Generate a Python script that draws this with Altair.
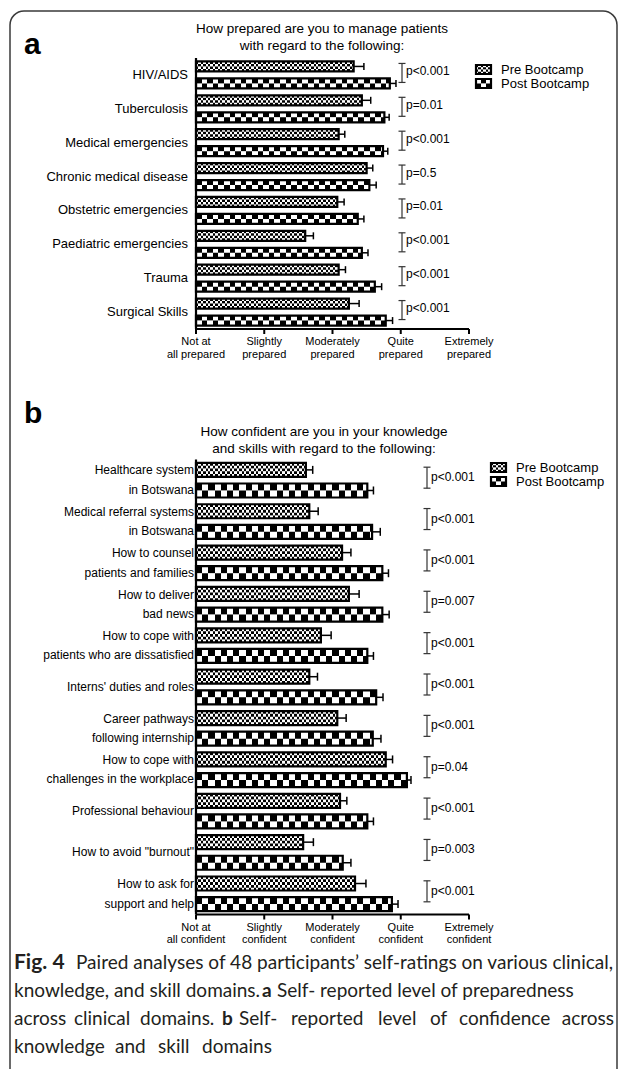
import math
import altair as alt

# ---------------- values ----------------
rating_levels = [1, 2, 3, 4, 5]
ticks_prepared = ["Not at\nall prepared", "Slightly\nprepared", "Moderately\nprepared",
                  "Quite\nprepared", "Extremely\nprepared"]
ticks_confident = ["Not at\nall confident", "Slightly\nconfident", "Moderately\nconfident",
                   "Quite\nconfident", "Extremely\nconfident"]

clinical_domains = ["HIV/AIDS", "Tuberculosis", "Medical emergencies", "Chronic medical disease",
                    "Obstetric emergencies", "Paediatric emergencies", "Trauma", "Surgical Skills"]
clinical_pre = [3.31, 3.43, 3.09, 3.50, 3.07, 2.60, 3.09, 3.24]
clinical_pre_err = [0.15, 0.13, 0.09, 0.09, 0.10, 0.12, 0.10, 0.15]
clinical_post = [3.84, 3.76, 3.74, 3.54, 3.37, 3.43, 3.62, 3.78]
clinical_post_err = [0.09, 0.07, 0.07, 0.10, 0.09, 0.09, 0.10, 0.10]
clinical_p = ["p<0.001", "p=0.01", "p<0.001", "p=0.5", "p=0.01", "p<0.001", "p<0.001", "p<0.001"]

skill_domains = ["Healthcare system\nin Botswana", "Medical referral systems\nin Botswana",
                 "How to counsel\npatients and families", "How to deliver\nbad news",
                 "How to cope with\npatients who are dissatisfied", "Interns' duties and roles",
                 "Career pathways\nfollowing internship", "How to cope with\nchallenges in the workplace",
                 "Professional behaviour", "How to avoid \"burnout\"", "How to ask for\nsupport and help"]
skill_pre = [2.61, 2.66, 3.14, 3.24, 2.83, 2.66, 3.07, 3.78, 3.11, 2.57, 3.33]
skill_pre_err = [0.10, 0.13, 0.13, 0.15, 0.15, 0.12, 0.13, 0.10, 0.10, 0.15, 0.16]
skill_post = [3.51, 3.58, 3.73, 3.73, 3.51, 3.64, 3.59, 4.09, 3.51, 3.15, 3.87]
skill_post_err = [0.09, 0.12, 0.09, 0.10, 0.09, 0.10, 0.12, 0.06, 0.09, 0.12, 0.09]
skill_p = ["p<0.001", "p<0.001", "p<0.001", "p=0.007", "p<0.001", "p<0.001", "p<0.001",
           "p=0.04", "p<0.001", "p=0.003", "p<0.001"]

series_names = ["Pre Bootcamp", "Post Bootcamp"]

# ---------------- layout ----------------
FONT = "Liberation Sans"
X_LO, X_HI = 196, 469                 # pixel span of the 1..5 rating scale
Y_DOMAIN = [0, 8, 9, 20]              # row units: panel a uses 0-8, panel b uses 9-20
Y_RANGE = [58, 329, 459.5, 914.5]
PX_A = (Y_RANGE[1] - Y_RANGE[0]) / 8
PX_GAP = (Y_RANGE[2] - Y_RANGE[1]) / 1
PX_B = (Y_RANGE[3] - Y_RANGE[2]) / 11
PX_PER_UNIT = (X_HI - X_LO) / 4

xs = alt.Scale(domain=[1, 5], range=[X_LO, X_HI], nice=False, zero=False)
ys = alt.Scale(domain=Y_DOMAIN, range=Y_RANGE, nice=False, zero=False)


def stripes(width_px, sq, phase):
    """Hard-stop horizontal gradient giving alternating black/white columns."""
    stops = []
    n = max(1, int(math.ceil(width_px / sq)))
    for c in range(n):
        col = "#000000" if (c + phase) % 2 == 0 else "#ffffff"
        a = min(1.0, c * sq / width_px)
        b = min(1.0, (c + 1) * sq / width_px)
        stops.append({"offset": a, "color": col})
        stops.append({"offset": b, "color": col})
    return {"gradient": "linear", "x1": 0, "x2": 1, "y1": 0, "y2": 0, "stops": stops}


PANEL_A = dict(row0=0, px=PX_A, px_below=PX_GAP, off=8.5, h=10, fine_rows=4, fine_sq=2.4,
               coarse_sq=5.6, cap=3.5, br_top=-11.5, br_bot=7.5, p_dy=-4, axis_row=8, line_h=15)
PANEL_B = dict(row0=9, px=PX_B, px_below=PX_B, off=10.3, h=14, fine_rows=5, fine_sq=2.4,
               coarse_sq=6.2, cap=4.0, br_top=-13, br_bot=8, p_dy=-3, axis_row=20, line_h=19.5)


def build(domains, pre, pre_e, post, post_e, pvals, cfg):
    strips, frames, errs, labels, brackets = [], [], [], [], []
    px = cfg["px"]
    for i, name in enumerate(domains):
        c = cfg["row0"] + i + 0.5
        for grp, v, e, sign in (("Pre", pre[i], pre_e[i], -1), ("Post", post[i], post_e[i], 1)):
            yc = c + sign * cfg["off"] / px
            y0 = yc - cfg["h"] / 2 / px
            y1 = yc + cfg["h"] / 2 / px
            width_px = (v - 1) * PX_PER_UNIT
            nrows = cfg["fine_rows"] if grp == "Pre" else 2
            sq = cfg["fine_sq"] if grp == "Pre" else cfg["coarse_sq"]
            for r in range(nrows):
                s0 = y0 + (y1 - y0) * r / nrows
                s1 = y0 + (y1 - y0) * (r + 1) / nrows + (0.3 / px if r < nrows - 1 else 0)
                strips.append({"x": 1, "x2": v, "y": s0, "y2": s1, "g": stripes(width_px, sq, r)})
            frames.append({"x": 1, "x2": v, "y": y0, "y2": y1})
            errs.append({"v": v, "e": v + e, "yc": yc,
                         "c0": yc - cfg["cap"] / px, "c1": yc + cfg["cap"] / px})
        n_lines = name.count("\n") + 1
        labels.append({"t": name, "x": 1, "y": c - (n_lines - 1) * cfg["line_h"] / 2 / px})
        brackets.append({"p": pvals[i], "b0": c + cfg["br_top"] / px,
                         "b1": c + cfg["br_bot"] / px, "ty": c + cfg["p_dy"] / px})
    return strips, frames, errs, labels, brackets


def panel_layers(data, cfg, ticks, label_size, label_dx, bracket_x):
    strips, frames, errs, labels, brackets = data
    top, bot = cfg["row0"], cfg["axis_row"]
    below = cfg["px_below"]
    X = lambda f: alt.X(f, scale=xs, axis=None)
    Y = lambda f: alt.Y(f, scale=ys, axis=None)

    fill_layer = alt.Chart(alt.Data(values=strips)).mark_rect(strokeWidth=0).encode(
        x=X("x:Q"), x2="x2:Q", y=Y("y:Q"), y2="y2:Q", fill=alt.Fill("g:N", scale=None))
    frame_layer = alt.Chart(alt.Data(values=frames)).mark_rect(
        fill="transparent", stroke="black", strokeWidth=2.2).encode(
        x=X("x:Q"), x2="x2:Q", y=Y("y:Q"), y2="y2:Q")
    err_line = alt.Chart(alt.Data(values=errs)).mark_rule(color="black", strokeWidth=1.5).encode(
        x=X("v:Q"), x2="e:Q", y=Y("yc:Q"))
    err_cap = alt.Chart(alt.Data(values=errs)).mark_rule(color="black", strokeWidth=1.5).encode(
        x=X("e:Q"), y=Y("c0:Q"), y2="c1:Q")

    axes = alt.Chart(alt.Data(values=[
        {"x": 1, "x2": 1, "y": top, "y2": bot},
        {"x": 1, "x2": 5, "y": bot, "y2": bot},
    ])).mark_rule(color="black", strokeWidth=2.2).encode(
        x=X("x:Q"), x2="x2:Q", y=Y("y:Q"), y2="y2:Q")
    tick_rows = [{"x": lv, "y": bot, "y2": bot + 5 / below} for lv in rating_levels]
    tick_marks = alt.Chart(alt.Data(values=tick_rows)).mark_rule(color="black", strokeWidth=2).encode(
        x=X("x:Q"), y=Y("y:Q"), y2="y2:Q")
    tick_text_rows = [{"x": lv, "y": bot, "t": t} for lv, t in zip(rating_levels, ticks)]
    tick_text = alt.Chart(alt.Data(values=tick_text_rows)).mark_text(
        font=FONT, fontSize=11, align="center", baseline="top", lineBreak="\n",
        lineHeight=12.5, dy=7, color="black").encode(x=X("x:Q"), y=Y("y:Q"), text="t:N")

    cat_labels = alt.Chart(alt.Data(values=labels)).mark_text(
        font=FONT, fontSize=label_size, align="right", baseline="middle", lineBreak="\n",
        lineHeight=cfg["line_h"], dx=label_dx, color="black").encode(
        x=X("x:Q"), y=Y("y:Q"), text="t:N")

    br_v = alt.Chart(alt.Data(values=brackets)).mark_rule(color="#333333", strokeWidth=1.2).encode(
        x=alt.value(bracket_x), y=Y("b0:Q"), y2="b1:Q")
    br_top = alt.Chart(alt.Data(values=brackets)).mark_rule(color="#333333", strokeWidth=1.2).encode(
        x=alt.value(bracket_x - 3.5), x2=alt.value(bracket_x + 3.5), y=Y("b0:Q"))
    br_bot = alt.Chart(alt.Data(values=brackets)).mark_rule(color="#333333", strokeWidth=1.2).encode(
        x=alt.value(bracket_x - 3.5), x2=alt.value(bracket_x + 3.5), y=Y("b1:Q"))
    p_text = alt.Chart(alt.Data(values=brackets)).mark_text(
        font=FONT, fontSize=12, align="left", baseline="middle", color="black").encode(
        x=alt.value(bracket_x + 4), y=Y("ty:Q"), text="p:N")

    return [fill_layer, frame_layer, err_line, err_cap, axes, tick_marks, tick_text,
            cat_labels, br_v, br_top, br_bot, p_text]


def legend_layers(x0, y0, row_gap):
    sw_w, sw_h = 15, 9
    layers = []
    for k, name in enumerate(series_names):
        top = y0 + k * row_gap
        nrows = 4 if k == 0 else 2
        sq = 2.4 if k == 0 else 5.0
        for r in range(nrows):
            layers.append(alt.Chart(alt.Data(values=[{"n": name}])).mark_rect(strokeWidth=0).encode(
                x=alt.value(x0), x2=alt.value(x0 + sw_w),
                y=alt.value(top + sw_h * r / nrows), y2=alt.value(top + sw_h * (r + 1) / nrows + 0.2),
                fill=alt.value(stripes(sw_w, sq, r + (1 if k else 0)))))
        layers.append(alt.Chart(alt.Data(values=[{"n": name}])).mark_rect(
            fill="transparent", stroke="black", strokeWidth=2.2).encode(
            x=alt.value(x0), x2=alt.value(x0 + sw_w), y=alt.value(top), y2=alt.value(top + sw_h)))
        layers.append(alt.Chart(alt.Data(values=[{"n": name}])).mark_text(
            font=FONT, fontSize=13, align="left", baseline="middle", color="black").encode(
            x=alt.value(x0 + sw_w + 10), y=alt.value(top + sw_h / 2), text="n:N"))
    return layers


def text_layer(text, x, y, size, weight="normal", align="center", font=FONT, color="black", line_h=None):
    props = dict(font=font, fontSize=size, fontWeight=weight, align=align, baseline="alphabetic",
                 color=color, lineBreak="\n")
    if line_h:
        props["lineHeight"] = line_h
    return alt.Chart(alt.Data(values=[{"t": text}])).mark_text(**props).encode(
        x=alt.value(x), y=alt.value(y), text="t:N")


data_a = build(clinical_domains, clinical_pre, clinical_pre_err, clinical_post, clinical_post_err,
               clinical_p, PANEL_A)
data_b = build(skill_domains, skill_pre, skill_pre_err, skill_post, skill_post_err,
               skill_p, PANEL_B)

frame = alt.Chart(alt.Data(values=[{"k": 0}])).mark_rect(
    fill="transparent", stroke="#3a3a3a", strokeWidth=1.5, cornerRadius=14).encode(
    x=alt.value(10), x2=alt.value(617), y=alt.value(11), y2=alt.value(1120))

layers = [frame]
layers += panel_layers(data_a, PANEL_A, ticks_prepared, 13, -8, 402)
layers += panel_layers(data_b, PANEL_B, ticks_confident, 12, -2, 427)
layers += legend_layers(476, 65, 14)
layers += legend_layers(491, 463, 14)

# titles and panel letters
layers.append(text_layer("How prepared are you to manage patients\nwith regard to the following:",
                         322, 33, 13.5, line_h=16.5))
layers.append(text_layer("How confident are you in your knowledge\nand skills with regard to the following:",
                         324, 436, 13.5, line_h=16.5))
layers.append(text_layer("a", 24, 54, 30, weight="bold", align="left"))
layers.append(text_layer("b", 24, 423, 30, weight="bold", align="left"))

# figure caption; the spread-out lines are set word by word
CAP_FONT = "Lato"
CAP_SIZE = 19
CAP_COLOR = "#231f20"
caption_parts = [
    ("Fig. 4", 14, 969, "bold", "left", 21),
    ("Paired analyses of 48 participants\u2019 self-ratings on various clinical,", 76, 969, "normal", "left", 19.05),
    ("knowledge, and skill domains.", 14, 997, "normal", "left", CAP_SIZE),
    ("a", 262, 997, "bold", "left", CAP_SIZE),
    ("Self- reported level of preparedness", 277, 997, "normal", "left", CAP_SIZE),
    ("across", 14, 1025, "normal", "left", CAP_SIZE),
    ("clinical", 74, 1025, "normal", "left", CAP_SIZE),
    ("domains.", 140, 1025, "normal", "left", CAP_SIZE),
    ("b", 222, 1025, "bold", "left", CAP_SIZE),
    ("Self-", 239, 1025, "normal", "left", CAP_SIZE),
    ("reported", 291, 1025, "normal", "left", CAP_SIZE),
    ("level", 378, 1025, "normal", "left", CAP_SIZE),
    ("of", 430, 1025, "normal", "left", CAP_SIZE),
    ("confidence", 459, 1025, "normal", "left", CAP_SIZE),
    ("across", 614, 1025, "normal", "right", CAP_SIZE),
    ("knowledge", 14, 1053, "normal", "left", CAP_SIZE),
    ("and", 115, 1053, "normal", "left", CAP_SIZE),
    ("skill", 158, 1053, "normal", "left", CAP_SIZE),
    ("domains", 202, 1053, "normal", "left", CAP_SIZE),
]
for txt, x, y, w, al, sz in caption_parts:
    layers.append(text_layer(txt, x, y, sz, weight=w, align=al, font=CAP_FONT, color=CAP_COLOR))

chart = alt.layer(*layers).properties(
    width=627, height=1069, padding=0,
    autosize=alt.AutoSizeParams(type="none"),
    background="white",
).configure_view(stroke=None)

chart.save("out.html", embed_options={"renderer": "svg", "actions": False})
